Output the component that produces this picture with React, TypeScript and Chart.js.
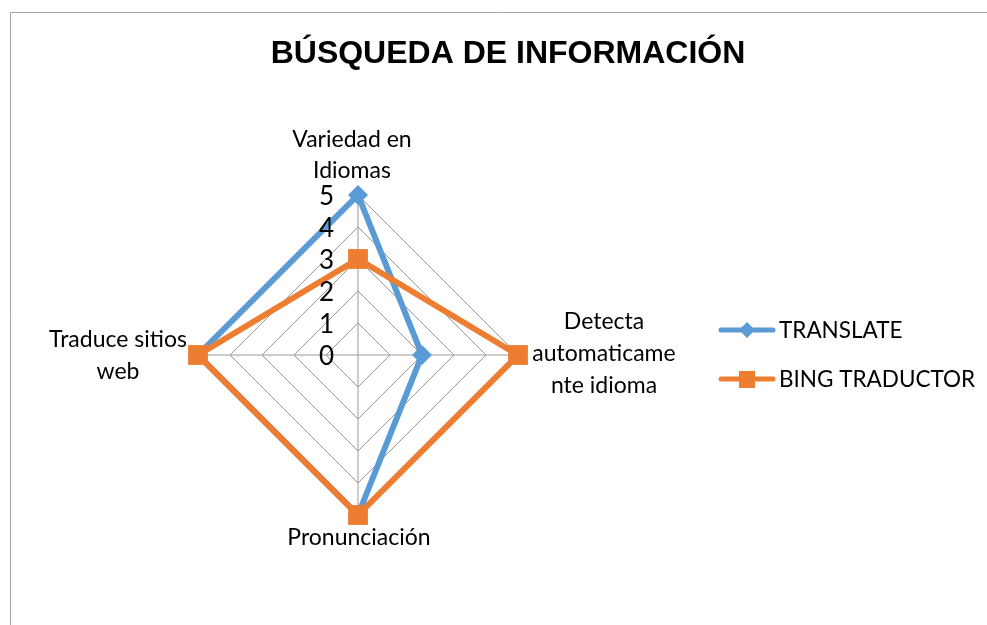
import React, { useEffect, useRef } from "react";
import { Chart, registerables } from "chart.js";

Chart.register(...registerables);

const titleText = "BÚSQUEDA DE INFORMACIÓN";
const categories: string[][] = [
  ["Variedad en", "Idiomas"],
  ["Detecta", "automaticame", "nte idioma"],
  ["Pronunciación"],
  ["Traduce sitios", "web"],
];
const translateValues = [5, 2, 5, 5];
const bingValues = [3, 5, 5, 5];
const tickLabels = ["0", "1", "2", "3", "4", "5"];
const seriesNames = ["TRANSLATE", "BING TRADUCTOR"];

const BLUE = "#5b9bd5";
const ORANGE = "#ed7d31";
const LABEL_FONT = "Lato, 'Liberation Sans', sans-serif";

// label offsets relative to the scale point position at max value
const labelOffsets = [
  { dx: -6, dy: -55, lh: 31 },
  { dx: 86, dy: -33, lh: 32 },
  { dx: 1, dy: 23, lh: 31 },
  { dx: -80, dy: -15, lh: 32 },
];

const customDraw = {
  id: "customDraw",
  beforeDraw(chart: any) {
    const ctx = chart.ctx;
    ctx.save();
    ctx.fillStyle = "#ffffff";
    ctx.fillRect(0, 0, chart.width, chart.height);
    ctx.strokeStyle = "#a6a6a6";
    ctx.lineWidth = 1;
    ctx.beginPath();
    ctx.moveTo(10.5, chart.height);
    ctx.lineTo(10.5, 12.5);
    ctx.lineTo(chart.width, 12.5);
    ctx.stroke();
    ctx.restore();
  },
  afterDraw(chart: any) {
    const ctx = chart.ctx;
    const scale = chart.scales.r;
    ctx.save();
    // title
    ctx.fillStyle = "#000000";
    ctx.font = "bold 32px 'Liberation Sans', Arial, sans-serif";
    ctx.textAlign = "center";
    ctx.textBaseline = "alphabetic";
    ctx.fillText(titleText, 508, 63);

    // tick labels
    ctx.font = `26px ${LABEL_FONT}`;
    ctx.textAlign = "right";
    ctx.textBaseline = "middle";
    tickLabels.forEach((t) => {
      const y = scale.yCenter - scale.getDistanceFromCenterForValue(Number(t));
      ctx.fillText(t, scale.xCenter - 24, y + 2);
    });

    // point labels
    ctx.font = `23px ${LABEL_FONT}`;
    ctx.textAlign = "center";
    categories.forEach((lines, i) => {
      const p = scale.getPointPosition(i, scale.drawingArea);
      const o = labelOffsets[i];
      lines.forEach((ln, j) => {
        ctx.fillText(ln, p.x + o.dx, p.y + o.dy + j * o.lh);
      });
    });

    // legend
    const items = [
      { name: seriesNames[0], color: BLUE, style: "diamond", y: 330 },
      { name: seriesNames[1], color: ORANGE, style: "square", y: 379 },
    ];
    items.forEach((it) => {
      ctx.strokeStyle = it.color;
      ctx.lineWidth = 5;
      ctx.lineCap = "round";
      ctx.beginPath();
      ctx.moveTo(721, it.y);
      ctx.lineTo(773, it.y);
      ctx.stroke();
      ctx.fillStyle = it.color;
      if (it.style === "diamond") {
        ctx.beginPath();
        ctx.moveTo(747, it.y - 8);
        ctx.lineTo(755, it.y);
        ctx.lineTo(747, it.y + 8);
        ctx.lineTo(739, it.y);
        ctx.closePath();
        ctx.fill();
      } else {
        ctx.fillRect(739, it.y - 8, 16, 17);
      }
      ctx.fillStyle = "#000000";
      ctx.font = `22.5px ${LABEL_FONT}`;
      ctx.textAlign = "left";
      ctx.textBaseline = "middle";
      ctx.fillText(it.name, 779, it.y + 1);
    });
    ctx.restore();
  },
};

export default function App() {
  const ref = useRef<HTMLCanvasElement | null>(null);
  useEffect(() => {
    if (!ref.current) return;
    const chart = new Chart(ref.current, {
      type: "radar",
      data: {
        labels: categories.map((c) => c.join(" ")),
        datasets: [
          {
            label: seriesNames[0],
            data: translateValues,
            borderColor: BLUE,
            backgroundColor: BLUE,
            borderWidth: 6,
            fill: false,
            pointStyle: "rectRot",
            pointRadius: 10,
            pointBorderWidth: 0,
            pointBackgroundColor: BLUE,
            order: 1,
          },
          {
            label: seriesNames[1],
            data: bingValues,
            borderColor: ORANGE,
            backgroundColor: ORANGE,
            borderWidth: 6,
            fill: false,
            pointStyle: "rect",
            pointRadius: 14,
            pointBorderWidth: 0,
            pointBackgroundColor: ORANGE,
            order: 0,
          },
        ],
      },
      options: {
        responsive: false,
        maintainAspectRatio: false,
        animation: false,
        layout: { padding: { left: 198, right: 469, top: 195, bottom: 110 } },
        plugins: {
          legend: { display: false },
          tooltip: { enabled: false },
          title: { display: false },
        },
        elements: { line: { tension: 0 } },
        scales: {
          r: {
            min: 0,
            max: 5,
            ticks: { display: false, stepSize: 1 },
            pointLabels: { display: false },
            grid: { color: "#9a9a9a", lineWidth: 1 },
            angleLines: { color: "#9a9a9a", lineWidth: 1 },
          },
        },
      },
      plugins: [customDraw],
    });
    return () => chart.destroy();
  }, []);
  return (
    <div style={{ position: "absolute", left: 0, top: 0, width: 987, height: 625 }}>
      <canvas ref={ref} width={987} height={625} style={{ display: "block" }} />
    </div>
  );
}
